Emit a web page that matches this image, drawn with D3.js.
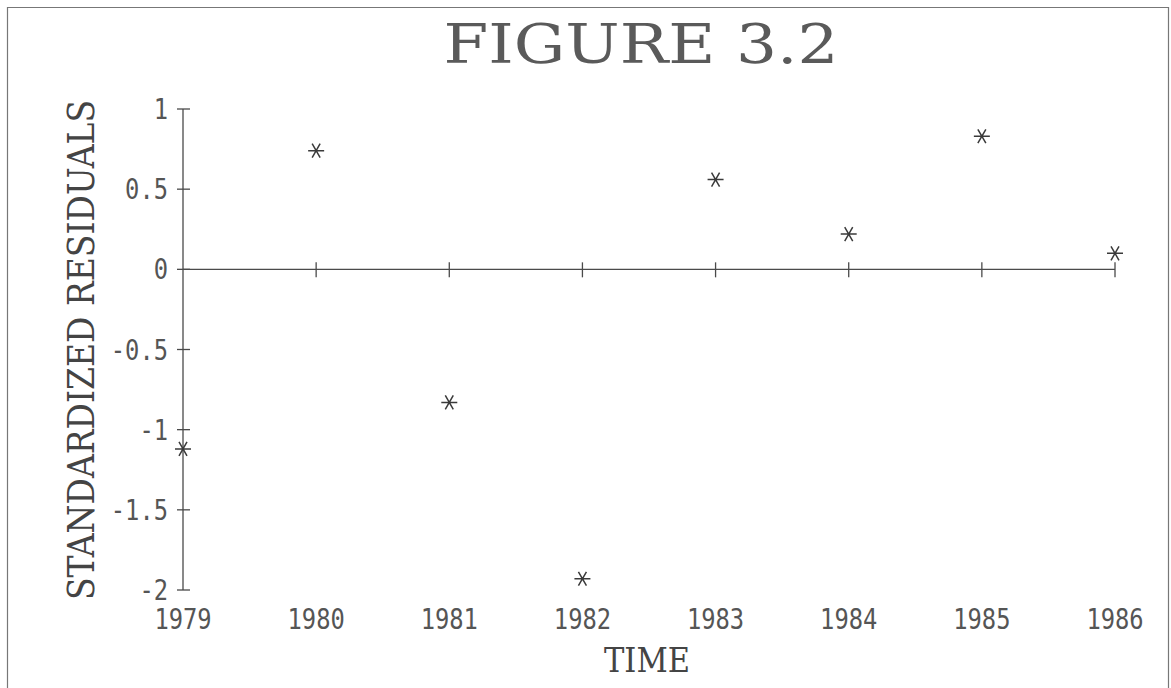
<!DOCTYPE html>
<html>
<head>
<meta charset="utf-8">
<script src="https://cdn.jsdelivr.net/npm/d3@7"></script>
<style>
  body { margin: 0; background: #fff; }
  svg { display: block; }
</style>
</head>
<body>
<div id="chart"></div>
<script>
(function(){
  "use strict";

  // data
  var years = [1979, 1980, 1981, 1982, 1983, 1984, 1985, 1986];
  var residuals = [-1.12, 0.74, -0.83, -1.93, 0.56, 0.22, 0.83, 0.10];
  var yTicks = [1, 0.5, 0, -0.5, -1, -1.5, -2];
  var yTickLabels = ["1", "0.5", "0", "-0.5", "-1", "-1.5", "-2"];

  var width = 1171, height = 688;
  var ink = "#4a4a4a";
  var charW = 14.3; // width of one tick-label glyph in the plot font

  var svg = d3.select("#chart").append("svg")
      .attr("width", width)
      .attr("height", height);

  // page frame
  svg.append("path")
      .attr("d", "M7.5,688 V7.5 H1168.5 V688")
      .attr("fill", "none")
      .attr("stroke", "#777")
      .attr("stroke-width", 1.2);

  var x = d3.scaleLinear().domain([1979, 1986]).range([183, 1115]);
  var y = d3.scaleLinear().domain([-2, 1]).range([590, 109]);

  // title
  svg.append("text")
      .attr("x", 641).attr("y", 63)
      .attr("text-anchor", "middle")
      .attr("font-family", "DejaVu Serif, Liberation Serif, serif")
      .attr("font-size", 55)
      .attr("font-weight", 300)
      .attr("textLength", 395)
      .attr("lengthAdjust", "spacingAndGlyphs")
      .attr("fill", "#5a5a5a")
      .text("FIGURE 3.2");

  // y axis line + ticks crossing it
  svg.append("line")
      .attr("x1", x(1979)).attr("x2", x(1979))
      .attr("y1", y(1)).attr("y2", y(-2))
      .attr("stroke", ink).attr("stroke-width", 1.3);

  svg.selectAll(".ytick").data(yTicks).enter().append("line")
      .attr("x1", x(1979) - 6).attr("x2", x(1979) + 7)
      .attr("y1", function(d){ return y(d); })
      .attr("y2", function(d){ return y(d); })
      .attr("stroke", ink).attr("stroke-width", 1.3);

  svg.selectAll(".ylab").data(yTicks).enter().append("text")
      .attr("x", x(1979) - 15)
      .attr("y", function(d){ return y(d) + 10; })
      .attr("text-anchor", "end")
      .attr("font-family", "DejaVu Sans Mono, monospace")
      .attr("font-size", 28)
      .attr("font-weight", 300)
      .attr("textLength", function(d, i){ return charW * yTickLabels[i].length; })
      .attr("lengthAdjust", "spacingAndGlyphs")
      .attr("fill", "#555")
      .text(function(d, i){ return yTickLabels[i]; });

  // x axis at zero
  svg.append("line")
      .attr("x1", x(1979)).attr("x2", x(1986))
      .attr("y1", y(0)).attr("y2", y(0))
      .attr("stroke", ink).attr("stroke-width", 1.2);

  svg.selectAll(".xtick").data(years.slice(1)).enter().append("line")
      .attr("x1", function(d){ return x(d); })
      .attr("x2", function(d){ return x(d); })
      .attr("y1", y(0) - 7).attr("y2", y(0) + 8)
      .attr("stroke", ink).attr("stroke-width", 1.3);

  svg.selectAll(".xlab").data(years).enter().append("text")
      .attr("x", function(d){ return x(d); })
      .attr("y", 629)
      .attr("text-anchor", "middle")
      .attr("font-family", "DejaVu Sans Mono, monospace")
      .attr("font-size", 28)
      .attr("font-weight", 300)
      .attr("textLength", charW * 4)
      .attr("lengthAdjust", "spacingAndGlyphs")
      .attr("fill", "#555")
      .text(function(d){ return d; });

  // axis titles
  svg.append("text")
      .attr("transform", "translate(94,350) rotate(-90)")
      .attr("text-anchor", "middle")
      .attr("font-family", "DejaVu Serif, Liberation Serif, serif")
      .attr("font-size", 38)
      .attr("textLength", 500)
      .attr("lengthAdjust", "spacingAndGlyphs")
      .attr("fill", "#444")
      .text("STANDARDIZED RESIDUALS");

  svg.append("text")
      .attr("x", 647).attr("y", 672)
      .attr("text-anchor", "middle")
      .attr("font-family", "DejaVu Serif, Liberation Serif, serif")
      .attr("font-size", 33)
      .attr("textLength", 86)
      .attr("lengthAdjust", "spacingAndGlyphs")
      .attr("fill", "#444")
      .text("TIME");

  // asterisk markers
  var r = 8;
  var star = "M" + (-r) + ",0H" + r +
    "M" + (-r * 0.5) + "," + (-r * 0.87) + "L" + (r * 0.5) + "," + (r * 0.87) +
    "M" + (r * 0.5) + "," + (-r * 0.87) + "L" + (-r * 0.5) + "," + (r * 0.87);

  svg.selectAll(".pt").data(years).enter().append("path")
      .attr("d", star)
      .attr("transform", function(d, i){ return "translate(" + x(d) + "," + y(residuals[i]) + ")"; })
      .attr("fill", "none")
      .attr("stroke", "#3a3a3a")
      .attr("stroke-width", 1.5);
})();
</script>
</body>
</html>
